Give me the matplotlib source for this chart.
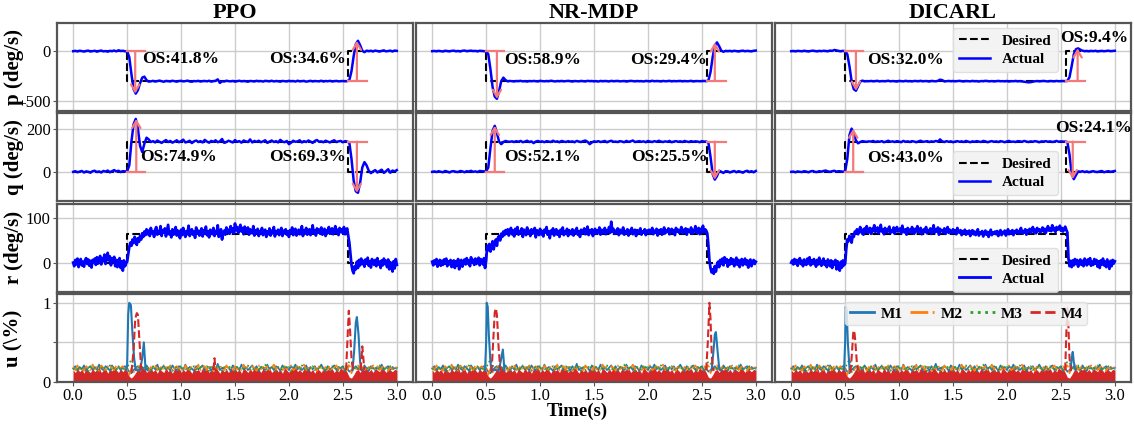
import numpy as np
import matplotlib.pyplot as plt

plt.rcParams['font.family'] = ['Liberation Serif', 'DejaVu Serif']
plt.rcParams['axes.unicode_minus'] = False

nan = np.nan
methods = ['PPO', 'NR-MDP', 'DICARL']

# desired step commands
des_t = [0.0, 0.5, 0.5, 2.55, 2.55, 3.0]
des_p = [0, 0, -300, -300, 0, 0]
des_q = [0, 0, 140, 140, 0, 0]
des_r = [0, 0, 65, 65, 0, 0]

# sample times
t_pq = np.linspace(0, 3, 151)
t_r = np.linspace(0, 3, 301)
t_u = np.linspace(0, 3, 151)

# ---- p (deg/s), one value every 0.02 s ----
p_ppo = [
    0, 3, -2, 4, 1, -4, 2, 5, -3, 0,
    4, -5, 2, 6, -2, 1, -5, 3, 0, 6,
    -2, 9, 2, 4, -1,
    0, -60, -230, -380, -425, -390, -320, -265, -255, -290, -305,
    -302, -297, -304, -299, -295, -301, -306, -298, -300, -303,
    -296, -301, -305, -299, -297, -302, -300, -295, -303, -306,
    -299, -301, -297, -304, -300, -298, -302, -296, -305, -300,
    -297, -282, -318, -301, -304, -296, -300, -302, -298, -305,
    -300, -296, -302, -299, -301, -306, -298, -300, -303, -297,
    -301, -299, -304, -297, -300, -302, -296, -303, -299, -301,
    -305, -298, -300, -303, -297, -301, -299, -304, -296, -302,
    -300, -298, -305, -301, -297, -303, -299, -300, -302, -296,
    -304, -299, -301, -297, -303, -300, -298, -302, -300, -299, -301,
    -300, -290, -200, -50, 70, 104, 60, 5, -10, 5,
    0, 4, -3, 6, 1, -4, 3, 8, -2, 2, 5, -3, 6, 3,
]
p_nr = [
    0, 2, -1, 3, 0, -3, 4, 1, -2, 3,
    5, -1, 2, -3, 4, 6, 0, 2, 5, 1,
    3, -2, 4, 2, 0,
    0, -30, -180, -360, -455, -477, -400, -300, -265, -290, -302,
    -298, -301, -303, -299, -300, -297, -302, -300, -304, -299,
    -301, -298, -300, -303, -297, -300, -302, -299, -301, -296,
    -300, -303, -299, -301, -298, -302, -300, -297, -301, -304,
    -299, -300, -302, -298, -301, -303, -297, -300, -299, -302,
    -300, -304, -298, -301, -299, -300, -303, -297, -301, -300,
    -298, -302, -300, -299, -304, -301, -297, -300, -302, -299,
    -301, -300, -303, -298, -300, -302, -296, -301, -299, -300,
    -303, -298, -301, -300, -297, -302, -299, -301, -300, -298,
    -302, -299, -301, -300, -297, -303, -300, -299, -301, -300, -298,
    -300, -295, -210, -60, 55, 88, 50, 5, -6, 3,
    0, 3, -2, 4, 1, -3, 2, 5, -1, 3, 0, -2, 4, 6,
]
p_di = [
    0, 2, -2, 3, 1, -1, 4, 0, -3, 2,
    5, 1, -2, 3, 0, 4, 2, -1, 6, 3,
    12, 8, 2, -1, 3,
    0, -30, -150, -300, -380, -396, -350, -305, -295, -302, -300,
    -301, -298, -302, -300, -297, -303, -299, -301, -300, -296,
    -302, -299, -301, -304, -298, -300, -302, -297, -301, -300,
    -303, -298, -300, -301, -297, -302, -299, -300, -304, -298,
    -300, -302, -297, -285, -290, -303, -300, -298, -301, -299,
    -302, -300, -297, -301, -303, -299, -300, -302, -298, -301,
    -300, -304, -299, -301, -297, -300, -302, -299, -303, -300,
    -298, -301, -300, -302, -299, -304, -300, -301, -298, -302,
    -300, -303, -306, -309, -312, -310, -305, -301, -299, -302,
    -300, -298, -301, -303, -299, -300, -302, -298, -301, -300, -299,
    -300, -298, -260, -150, -30, 20, 28, 15, 5, 0,
    2, -1, 3, 0, 4, -2, 1, 3, -1, 2, 5, 0, 2, 4,
]

# ---- q (deg/s), one value every 0.02 s ----
q_ppo = [
    0, 3, -2, 1, 4, -3, 2, 0, -4, 3,
    5, -1, 2, -3, 4, 1, 6, -2, 3, 8,
    2, 5, -1, 3, 2,
    2, 30, 140, 220, 245, 200, 120, 92, 130, 158, 150, 138,
    142, 136, 145, 139, 134, 141, 147, 138, 143, 135,
    140, 146, 137, 142, 149, 136, 139, 144, 133, 141,
    145, 138, 142, 136, 148, 140, 135, 143, 139, 146,
    137, 141, 152, 134, 138, 144, 140, 136, 147, 139,
    142, 135, 145, 141, 138, 150, 136, 143, 139, 144,
    137, 141, 146, 134, 140, 145, 138, 142, 136, 148,
    140, 137, 143, 128, 135, 144, 139, 141, 146, 136,
    142, 138, 145, 140, 134, 143, 147, 139, 141, 137,
    144, 140, 136, 142, 146, 138, 141, 143, 137, 142,
    140, 135, 60, -40, -90, -97, -50, 20, 45, 30,
    5, -6, 2, 8, -3, 4, 10, -5, 3, 12, -4, 6, 2, 8,
]
q_nr = [
    0, 2, -1, 3, 0, -2, 4, 1, -3, 2,
    3, 0, -1, 4, 2, -2, 3, 1, 5, 0,
    2, -1, 4, 3, 2,
    2, 20, 110, 190, 213, 180, 140, 128, 138, 143, 140, 139,
    141, 138, 142, 139, 143, 137, 140, 144, 138, 141,
    133, 140, 143, 139, 141, 137, 142, 140, 138, 144,
    139, 141, 137, 143, 140, 138, 142, 139, 141, 137,
    143, 140, 138, 142, 145, 139, 128, 136, 141, 139,
    142, 138, 140, 143, 137, 141, 144, 139, 140, 138,
    142, 140, 137, 143, 139, 141, 145, 138, 140, 142,
    139, 141, 137, 143, 140, 138, 142, 139, 144, 140,
    138, 141, 139, 143, 137, 140, 142, 139, 141, 138,
    143, 140, 138, 142, 139, 141, 140, 137, 142, 140,
    140, 136, 70, -10, -36, -20, 5, 0, -5, 3,
    2, -3, 1, 4, -2, 3, 0, -4, 2, 5, -1, 3, -2, 4,
]
q_di = [
    0, 1, -2, 2, 0, -1, 3, 1, -2, 2,
    4, 0, -1, 3, 1, 4, 6, 2, 0, 3,
    5, 1, 3, 2, 1,
    2, 60, 170, 200, 175, 145, 132, 138, 142, 140, 139, 141,
    140, 143, 138, 141, 139, 142, 137, 140, 144, 139,
    141, 138, 142, 140, 137, 143, 139, 141, 138, 142,
    140, 137, 141, 144, 139, 140, 142, 138, 141, 139,
    143, 140, 150, 141, 138, 142, 139, 141, 137, 140,
    142, 139, 141, 138, 143, 140, 137, 141, 139, 142,
    140, 138, 143, 141, 137, 140, 142, 139, 141, 138,
    142, 140, 137, 141, 143, 139, 140, 138, 142, 141,
    139, 143, 140, 138, 141, 139, 142, 140, 137, 141,
    140, 142, 139, 141, 138, 140, 143, 139, 141, 140,
    140, 138, 80, -10, -34, -15, 2, 0, 3, -1,
    2, -2, 1, 3, 0, -1, 2, 4, -2, 1, 3, 0, 2, 4,
]

# ---- r (deg/s), one value every 0.01 s ----
r_ppo = [
    0, -8, 6, -4, 9, -10, 3, 8, -6, 2,
    -9, 5, 10, -3, 7, -7, 4, -11, 6, 1,
    9, -5, 12, -2, 8, 15, -4, 10, 3, 18,
    -3, 12, 22, 5, 14, -6, 9, 2, 13, -8,
    6, -10, 4, 10, -12, 3, -18, 5, -8, -2,
    2, 18, 35, 45, 38, 52, 44, 58, 48, 40,
    55, 47, 60, 52, 66, 58, 70, 62, 75, 64,
    72, 60, 78, 66, 70, 58, 74, 80, 63, 71,
    66, 82, 60, 73, 68, 77, 59, 72, 85, 64,
    70, 57, 75, 63, 69, 80, 61, 72, 66, 55,
    74, 62, 78, 67, 58, 71, 64, 83, 60, 69,
    75, 63, 70, 56, 79, 65, 72, 61, 68, 77,
    59, 73, 66, 81, 62, 70, 57, 74, 68, 64,
    78, 60, 71, 66, 84, 58, 69, 75, 52, 67,
    72, 63, 79, 68, 74, 65, 82, 70, 77, 66,
    88, 73, 80, 67, 76, 85, 70, 78, 64, 81,
    72, 68, 79, 63, 75, 70, 66, 82, 61, 73,
    67, 76, 60, 71, 65, 78, 62, 69, 74, 58,
    70, 64, 77, 61, 72, 67, 80, 59, 71, 65,
    74, 62, 69, 78, 60, 72, 66, 75, 63, 70,
    58, 73, 67, 79, 62, 70, 76, 61, 68, 74,
    64, 71, 82, 60, 73, 67, 78, 63, 70, 75,
    62, 69, 84, 66, 72, 61, 77, 68, 74, 65,
    79, 63, 71, 76, 60, 73, 68, 80, 65, 72,
    77, 64, 70, 82, 67, 74, 62, 78, 69, 75,
    66, 80, 64, 73, 77, 60, 45, 20, -5, -18,
    -24, -8, -15, 2, -12, 6, -6, 9, -3, 4,
    -9, 7, -2, 11, -7, 3, -11, 8, 0, -5,
    6, -8, 10, -4, 2, -12, 5, -6, 9, -3,
    4, -10, 7, -15, 1, -7, -20, 3, -13, 8,
    -5,
]
r_nr = [
    2, -6, 5, -3, 8, -9, 1, 6, -7, 4,
    -5, 7, -2, 9, -8, 3, -4, 6, -10, 2,
    5, -12, 3, -6, 8, -15, -3, 6, -9, 1,
    7, -4, 10, -2, 5, -8, 12, 0, 6, -5,
    9, -3, 4, 11, -6, 8, 2, -4, 10, -12,
    5, 38, 28, 42, 25, 35, 48, 30, 44, 52,
    38, 56, 60, 50, 65, 58, 70, 62, 73, 66,
    75, 61, 70, 78, 64, 72, 59, 76, 68, 80,
    63, 71, 66, 77, 58, 74, 69, 62, 79, 67,
    72, 60, 75, 65, 70, 78, 57, 73, 66, 62,
    76, 64, 71, 59, 74, 68, 80, 63, 70, 55,
    72, 66, 77, 61, 69, 75, 63, 71, 58, 74,
    67, 79, 62, 70, 65, 76, 60, 73, 68, 64,
    75, 61, 72, 67, 78, 63, 70, 58, 74, 66,
    71, 77, 64, 69, 81, 62, 73, 67, 75, 60,
    70, 76, 65, 72, 68, 79, 63, 74, 66, 71,
    78, 64, 73, 69, 80, 67, 92, 70, 76, 65,
    72, 68, 77, 62, 74, 70, 66, 79, 63, 71,
    67, 75, 61, 72, 69, 78, 64, 70, 74, 60,
    73, 66, 71, 77, 63, 70, 68, 75, 62, 72,
    69, 74, 65, 71, 78, 64, 72, 67, 76, 61,
    73, 68, 75, 63, 70, 79, 66, 72, 69, 77,
    64, 71, 76, 68, 73, 62, 78, 70, 74, 67,
    72, 80, 66, 74, 69, 77, 63, 75, 71, 68,
    79, 65, 73, 70, 82, 67, 74, 78, 64, 76,
    70, 83, 68, 75, 72, 66, 40, 5, -12, -22,
    -15, -25, -8, -20, -5, 2, -10, 6, -3, 9,
    -6, 12, 0, 8, -9, 5, -4, 10, -2, 7,
    -8, 4, 11, -5, 6, -10, 3, 8, -6, 2,
    9, -4, 5, -11, 3, 7, -8, 1, 6, -3,
    2,
]
r_di = [
    0, 5, -4, 8, -2, 6, -7, 3, 10, -3,
    4, -8, 7, 1, -5, 9, -2, 12, -6, 5,
    -3, 8, 2, -9, 6, -4, 11, 0, -7, 4,
    9, -5, 3, -10, 7, 1, -8, 5, -12, 2,
    -4, 6, -15, 3, -9, -18, 2, -11, 5, -6,
    -2, 30, 52, 48, 60, 55, 45, 62, 58, 70,
    66, 75, 64, 72, 80, 68, 74, 63, 77, 70,
    82, 67, 73, 78, 65, 76, 71, 84, 69, 74,
    79, 66, 72, 85, 70, 75, 64, 78, 71, 68,
    76, 81, 67, 73, 69, 79, 65, 74, 80, 70,
    72, 77, 66, 83, 71, 68, 75, 63, 78, 70,
    74, 67, 80, 72, 65, 76, 70, 82, 68, 73,
    78, 64, 71, 75, 69, 80, 66, 73, 70, 77,
    65, 72, 84, 68, 74, 70, 79, 63, 76, 71,
    73, 68, 77, 65, 71, 80, 67, 74, 70, 66,
    75, 69, 72, 64, 78, 70, 67, 73, 62, 71,
    68, 74, 63, 70, 66, 72, 60, 69, 73, 64,
    70, 62, 67, 75, 61, 68, 65, 71, 59, 66,
    72, 63, 69, 58, 67, 74, 62, 68, 65, 70,
    64, 71, 60, 67, 73, 62, 69, 66, 72, 61,
    68, 75, 64, 70, 66, 73, 62, 71, 67, 74,
    69, 65, 72, 78, 66, 71, 68, 75, 63, 73,
    70, 76, 67, 72, 80, 69, 74, 66, 78, 71,
    75, 68, 73, 79, 70, 76, 67, 74, 82, 72,
    77, 71, 84, 73, 78, 69, 80, 74, 76, 83,
    72, 78, 70, 75, 81, 74, 68, 10, -8, 4,
    -10, 5, -6, 8, -3, 6, -9, 2, 7, -5,
    4, -8, 9, 0, -6, 7, -3, 10, -7, 2,
    -5, 8, -2, 6, -9, 3, -12, 5, -4, 9,
    -6, 2, -10, 7, -3, -14, 4, -8, 6, -2,
    3,
]

# ---- u, motor commands (steady part, every 0.02 s) ----
u_m1 = [
    0.17, 0.20, 0.15, 0.19, 0.16, 0.21, 0.14, 0.18, 0.20, 0.15,
    0.19, 0.16, 0.22, 0.17, 0.15, 0.20, 0.18, 0.14, 0.21, 0.17,
    0.16, 0.19, 0.15, 0.18, 0.20, 0.17, 0.13, 0.11, 0.15, 0.18,
    0.20, 0.16, 0.19, 0.15, 0.21, 0.17, 0.14, 0.19, 0.16, 0.22,
    0.15, 0.18, 0.20, 0.16, 0.19, 0.14, 0.21, 0.17, 0.15, 0.20,
    0.18, 0.15, 0.22, 0.16, 0.19, 0.17, 0.14, 0.20, 0.16, 0.18,
    0.21, 0.15, 0.17, 0.19, 0.14, 0.20, 0.16, 0.23, 0.15, 0.18,
    0.16, 0.20, 0.18, 0.14, 0.21, 0.17, 0.19, 0.15, 0.22, 0.16,
    0.19, 0.15, 0.18, 0.21, 0.16, 0.20, 0.14, 0.19, 0.17, 0.15,
    0.22, 0.16, 0.19, 0.15, 0.20, 0.18, 0.14, 0.21, 0.17, 0.19,
    0.15, 0.20, 0.17, 0.22, 0.16, 0.19, 0.15, 0.18, 0.21, 0.14,
    0.19, 0.16, 0.20, 0.15, 0.18, 0.22, 0.17, 0.14, 0.20, 0.16,
    0.18, 0.21, 0.15, 0.19, 0.17, 0.20, 0.14, 0.18, 0.13, 0.15,
    0.17, 0.20, 0.16, 0.19, 0.15, 0.21, 0.17, 0.14, 0.20, 0.18,
    0.15, 0.19, 0.17, 0.22, 0.16, 0.18, 0.20, 0.15, 0.19, 0.17,
    0.18,
]
u_m2 = [
    0.19, 0.15, 0.21, 0.16, 0.18, 0.14, 0.20, 0.17, 0.15, 0.22,
    0.16, 0.19, 0.14, 0.21, 0.18, 0.15, 0.20, 0.17, 0.19, 0.15,
    0.21, 0.16, 0.18, 0.20, 0.15, 0.19, 0.09, 0.17, 0.12, 0.16,
    0.18, 0.21, 0.15, 0.17, 0.20, 0.14, 0.19, 0.16, 0.22, 0.15,
    0.17, 0.20, 0.15, 0.19, 0.16, 0.21, 0.14, 0.18, 0.20, 0.16,
    0.19, 0.14, 0.21, 0.17, 0.15, 0.20, 0.18, 0.16, 0.22, 0.15,
    0.18, 0.20, 0.15, 0.21, 0.17, 0.14, 0.19, 0.16, 0.20, 0.18,
    0.15, 0.21, 0.17, 0.19, 0.14, 0.20, 0.16, 0.18, 0.15, 0.22,
    0.17, 0.19, 0.15, 0.20, 0.18, 0.14, 0.21, 0.16, 0.19, 0.17,
    0.20, 0.15, 0.18, 0.22, 0.16, 0.19, 0.17, 0.14, 0.20, 0.16,
    0.18, 0.21, 0.15, 0.17, 0.20, 0.16, 0.19, 0.22, 0.15, 0.18,
    0.16, 0.20, 0.18, 0.14, 0.21, 0.17, 0.15, 0.19, 0.16, 0.20,
    0.15, 0.18, 0.21, 0.16, 0.19, 0.17, 0.20, 0.15, 0.23, 0.11,
    0.19, 0.16, 0.21, 0.15, 0.18, 0.20, 0.14, 0.19, 0.17, 0.21,
    0.16, 0.20, 0.15, 0.18, 0.21, 0.17, 0.14, 0.19, 0.16, 0.20,
    0.17,
]
u_m3 = [
    0.16, 0.18, 0.14, 0.20, 0.15, 0.19, 0.17, 0.13, 0.21, 0.16,
    0.18, 0.14, 0.19, 0.16, 0.20, 0.15, 0.17, 0.21, 0.14, 0.18,
    0.15, 0.20, 0.16, 0.19, 0.14, 0.17, 0.24, 0.28, 0.22, 0.15,
    0.17, 0.19, 0.14, 0.21, 0.16, 0.18, 0.15, 0.20, 0.17, 0.14,
    0.19, 0.16, 0.21, 0.15, 0.18, 0.20, 0.14, 0.17, 0.19, 0.15,
    0.21, 0.17, 0.15, 0.19, 0.14, 0.18, 0.20, 0.16, 0.15, 0.21,
    0.16, 0.18, 0.20, 0.14, 0.19, 0.17, 0.15, 0.21, 0.18, 0.14,
    0.19, 0.15, 0.17, 0.21, 0.16, 0.14, 0.20, 0.17, 0.19, 0.15,
    0.18, 0.21, 0.16, 0.14, 0.19, 0.17, 0.15, 0.20, 0.16, 0.22,
    0.15, 0.17, 0.20, 0.16, 0.14, 0.19, 0.18, 0.15, 0.21, 0.17,
    0.19, 0.14, 0.16, 0.20, 0.18, 0.15, 0.21, 0.17, 0.14, 0.19,
    0.17, 0.20, 0.15, 0.18, 0.16, 0.21, 0.14, 0.19, 0.17, 0.15,
    0.20, 0.16, 0.18, 0.14, 0.21, 0.17, 0.15, 0.19, 0.26, 0.24,
    0.15, 0.19, 0.17, 0.21, 0.14, 0.18, 0.16, 0.20, 0.15, 0.19,
    0.18, 0.15, 0.21, 0.17, 0.14, 0.19, 0.16, 0.20, 0.18, 0.15,
    0.16,
]
u_m4 = [
    0.15, 0.12, 0.17, 0.13, 0.16, 0.11, 0.18, 0.14, 0.12, 0.17,
    0.13, 0.16, 0.19, 0.12, 0.15, 0.17, 0.11, 0.16, 0.14, 0.18,
    0.15, 0.12, 0.17, 0.13, 0.16, 0.14, 0.07, 0.05, 0.08, 0.12,
    0.17, 0.14, 0.16, 0.19, 0.12, 0.15, 0.18, 0.13, 0.16, 0.11,
    0.17, 0.14, 0.12, 0.18, 0.13, 0.16, 0.11, 0.17, 0.15, 0.19,
    0.12, 0.16, 0.13, 0.18, 0.15, 0.11, 0.17, 0.14, 0.16, 0.12,
    0.18, 0.15, 0.17, 0.12, 0.16, 0.13, 0.19, 0.15, 0.11, 0.17,
    0.13, 0.16, 0.12, 0.18, 0.15, 0.17, 0.13, 0.16, 0.11, 0.18,
    0.15, 0.12, 0.17, 0.13, 0.19, 0.15, 0.16, 0.12, 0.17, 0.14,
    0.16, 0.18, 0.12, 0.15, 0.17, 0.13, 0.16, 0.11, 0.18, 0.15,
    0.12, 0.17, 0.15, 0.19, 0.13, 0.16, 0.12, 0.17, 0.15, 0.18,
    0.13, 0.16, 0.11, 0.17, 0.15, 0.12, 0.18, 0.14, 0.16, 0.15,
    0.17, 0.12, 0.16, 0.13, 0.18, 0.15, 0.17, 0.12, 0.06, 0.05,
    0.09, 0.14, 0.16, 0.12, 0.17, 0.15, 0.18, 0.13, 0.16, 0.12,
    0.17, 0.15, 0.13, 0.18, 0.16, 0.12, 0.17, 0.15, 0.13, 0.16,
    0.15,
]

# ---- u, motor peaks around the steps ----
m1_ppo_t = [0.49, 0.50, 0.51, 0.52, 0.535, 0.55, 0.565, 0.58, 0.62, 0.64, 0.655, 0.67, 0.69,
            nan, 2.59, 2.605, 2.62, 2.63, 2.645, 2.66, 2.675]
m1_ppo_v = [0.15, 0.2, 0.85, 1.0, 0.97, 0.6, 0.3, 0.15, 0.15, 0.3, 0.5, 0.18, 0.15,
            nan, 0.15, 0.4, 0.75, 0.82, 0.6, 0.25, 0.15]
m4_ppo_t = [0.54, 0.56, 0.575, 0.59, 0.60, 0.615, 0.63, 0.645, nan, 1.30, 1.31, 1.32,
            nan, 2.53, 2.545, 2.555, 2.565, 2.58, 2.595, nan, 2.665, 2.68, 2.69, 2.70]
m4_ppo_v = [0.12, 0.4, 0.8, 0.87, 0.85, 0.5, 0.18, 0.14, nan, 0.15, 0.3, 0.15,
            nan, 0.15, 0.6, 0.9, 0.7, 0.3, 0.14, nan, 0.15, 0.45, 0.3, 0.15]
m1_nr_t = [0.49, 0.50, 0.505, 0.515, 0.525, 0.54, 0.55, 0.56, 0.62, 0.64, 0.655, 0.67,
           nan, 2.59, 2.605, 2.62, 2.63, 2.645, 2.66, 2.67]
m1_nr_v = [0.15, 0.5, 1.0, 0.95, 0.6, 0.25, 0.14, 0.15, 0.15, 0.3, 0.41, 0.15,
           nan, 0.15, 0.35, 0.6, 0.63, 0.4, 0.18, 0.15]
m4_nr_t = [0.55, 0.565, 0.58, 0.59, 0.60, 0.615, 0.63, 0.645,
           nan, 2.54, 2.555, 2.57, 2.58, 2.59, 2.60, 2.61]
m4_nr_v = [0.12, 0.5, 0.88, 0.93, 0.85, 0.45, 0.18, 0.14,
           nan, 0.15, 0.5, 1.0, 0.8, 0.4, 0.18, 0.14]
m1_di_t = [0.49, 0.50, 0.505, 0.515, 0.525, 0.54, 0.55, nan, 2.59, 2.60, 2.61, 2.62, 2.635]
m1_di_v = [0.15, 0.5, 0.95, 0.9, 0.5, 0.18, 0.14, nan, 0.15, 0.3, 0.38, 0.25, 0.15]
m4_di_t = [0.55, 0.565, 0.575, 0.585, 0.595, 0.61, 0.625,
           nan, 2.54, 2.55, 2.56, 2.57, 2.58, 2.595]
m4_di_v = [0.12, 0.4, 0.62, 0.65, 0.5, 0.22, 0.14,
           nan, 0.15, 0.6, 0.95, 0.7, 0.3, 0.14]

# ---- overshoot marks ----
os_p_text = [['OS:41.8%', 'OS:34.6%'], ['OS:58.9%', 'OS:29.4%'], ['OS:32.0%', 'OS:9.4%']]
os_q_text = [['OS:74.9%', 'OS:69.3%'], ['OS:52.1%', 'OS:25.5%'], ['OS:43.0%', 'OS:24.1%']]
os_p_peak = [[-425, 104], [-477, 88], [-396, 28]]
os_q_peak = [[245, -97], [213, -36], [200, -34]]
os_p_at = [[0.575, 2.63], [0.60, 2.62], [0.60, 2.655]]
os_q_at = [[0.585, 2.63], [0.58, 2.62], [0.575, 2.61]]
# text anchors: (x, y, ha)
os_p_pos = [[(0.64, -80, 'left'), (2.525, -80, 'right')],
            [(0.67, -90, 'left'), (2.55, -90, 'right')],
            [(0.70, -90, 'left'), (2.49, 127, 'left')]]
os_q_pos = [[(0.62, 68, 'left'), (2.525, 68, 'right')],
            [(0.67, 68, 'left'), (2.55, 68, 'right')],
            [(0.70, 62, 'left'), (2.445, 201, 'left')]]

act_p = [p_ppo, p_nr, p_di]
act_q = [q_ppo, q_nr, q_di]
act_r = [r_ppo, r_nr, r_di]
spk_m1 = [(m1_ppo_t, m1_ppo_v), (m1_nr_t, m1_nr_v), (m1_di_t, m1_di_v)]
spk_m4 = [(m4_ppo_t, m4_ppo_v), (m4_nr_t, m4_nr_v), (m4_di_t, m4_di_v)]

os_color = '#f47a7a'
c1, c2, c3, c4 = '#1f77b4', '#ff7f0e', '#2ca02c', '#d62728'


def mark_os(ax, t_step, t_at, start, peak, text, pos):
    ax.plot([t_step, t_step + 0.17], [start, start], color=os_color, lw=1.6, zorder=4)
    ax.annotate('', xy=(t_at, peak), xytext=(t_at, start),
                arrowprops=dict(arrowstyle='->,head_length=0.5,head_width=0.3',
                                color=os_color, lw=1.6, shrinkA=0, shrinkB=0), zorder=4)
    ax.text(pos[0], pos[1], text, ha=pos[2], va='center', fontsize=12.5,
            fontweight='bold', zorder=5)


fig, axes = plt.subplots(4, 3, figsize=(11.34, 4.24), dpi=100, sharex=True, sharey='row')
plt.subplots_adjust(left=57 / 1134, right=1131 / 1134, top=1 - 23 / 424, bottom=1 - 382 / 424,
                    wspace=0.0085, hspace=0.034)

ylabels = ['p (deg/s)', 'q (deg/s)', 'r (deg/s)', 'u (\\%)']
ylims = [(-594, 282), (-135, 270), (-65, 132), (0, 1.105)]
yticks = [[-500, 0], [0, 200], [0, 100], [0, 0.5, 1]]
leg_top = [0.943, 0.57, 0.50]

for j in range(3):
    # p
    ax = axes[0, j]
    ax.plot(des_t, des_p, 'k--', lw=1.5, label='Desired')
    ax.plot(t_pq, act_p[j], color='blue', lw=1.8, label='Actual')
    mark_os(ax, 0.5, os_p_at[j][0], 0, os_p_peak[j][0], os_p_text[j][0], os_p_pos[j][0])
    mark_os(ax, 2.55, os_p_at[j][1], -300, os_p_peak[j][1], os_p_text[j][1], os_p_pos[j][1])
    ax.set_title(methods[j], fontsize=16, fontweight='bold', pad=3)
    # q
    ax = axes[1, j]
    ax.plot(des_t, des_q, 'k--', lw=1.5, label='Desired')
    ax.plot(t_pq, act_q[j], color='blue', lw=1.8, label='Actual')
    mark_os(ax, 0.5, os_q_at[j][0], 0, os_q_peak[j][0], os_q_text[j][0], os_q_pos[j][0])
    mark_os(ax, 2.55, os_q_at[j][1], 140, os_q_peak[j][1], os_q_text[j][1], os_q_pos[j][1])
    # r
    ax = axes[2, j]
    ax.plot(des_t, des_r, 'k--', lw=1.5, label='Desired')
    ax.plot(t_r, act_r[j], color='blue', lw=2.0, label='Actual')
    # u
    ax = axes[3, j]
    ax.plot(t_u, u_m1, color=c1, lw=1.2, label='M1')
    ax.plot(t_u, u_m2, color=c2, lw=1.2, ls='-.', label='M2')
    ax.plot(t_u, u_m3, color=c3, lw=1.2, ls=':', label='M3')
    ax.fill_between(t_u, 0, u_m4, color=c4, lw=0)
    ax.plot(spk_m1[j][0], spk_m1[j][1], color=c1, lw=1.5)
    ax.plot(spk_m4[j][0], spk_m4[j][1], color=c4, lw=1.5, ls='--', label='M4')

for i in range(4):
    for j in range(3):
        ax = axes[i, j]
        ax.set_xlim(-0.15, 3.15)
        ax.set_ylim(*ylims[i])
        ax.set_yticks(yticks[i])
        ax.set_xticks([0, 0.5, 1.0, 1.5, 2.0, 2.5, 3.0])
        ax.grid(True, color='#cccccc', lw=1.0)
        ax.set_axisbelow(True)
        ax.tick_params(labelsize=12, length=3, width=0.8, pad=1.5, color='#555555')
        for s in ax.spines.values():
            s.set_color('#555555')
            s.set_linewidth(1.6)
    axes[i, 0].set_ylabel(ylabels[i], fontsize=15, fontweight='bold')
    axes[i, 0].yaxis.set_label_coords(-0.093, 0.5)
axes[3, 0].set_yticklabels(['0', '', '1'])
axes[3, 0].set_xticklabels(['0.0', '0.5', '1.0', '1.5', '2.0', '2.5', '3.0'])

for i in range(3):
    axes[i, 2].legend(loc='upper left', bbox_to_anchor=(0.50, leg_top[i]), borderaxespad=0,
                      prop=dict(weight='bold', size=11), handlelength=2.0, facecolor='#f2f2f2',
                      edgecolor='#dddddd', framealpha=0.9, borderpad=0.4, labelspacing=0.3)
leg = axes[3, 2].legend(loc='upper left', bbox_to_anchor=(0.197, 0.91), borderaxespad=0, ncol=4,
                        prop=dict(weight='bold', size=11), handlelength=1.6, handletextpad=0.4,
                        columnspacing=0.5, facecolor='#f2f2f2', edgecolor='#dddddd',
                        framealpha=0.85, borderpad=0.3)
for h in leg.get_lines():
    h.set_linewidth(2.0)

fig.text(577 / 1134, 1 - 403 / 424, 'Time(s)', ha='center', va='top', fontsize=13.5,
         fontweight='bold')

fig.savefig('out.png', dpi=100)
